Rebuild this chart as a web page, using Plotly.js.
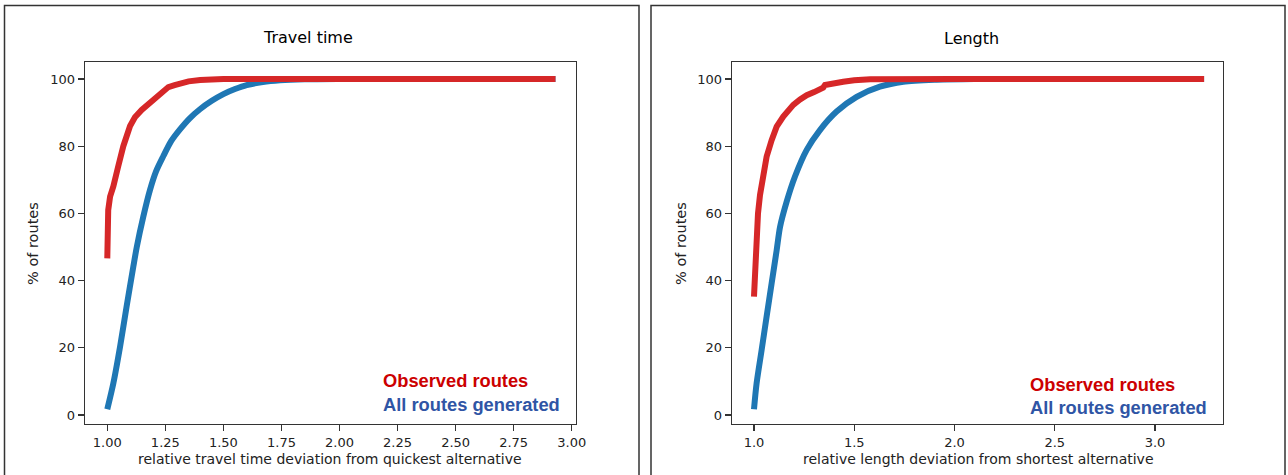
<!DOCTYPE html>
<html>
<head>
<meta charset="utf-8">
<script src="https://cdn.plot.ly/plotly-3.0.1.min.js"></script>
<style>
  html, body { margin: 0; padding: 0; background: #fff; }
  #chart { width: 1288px; height: 475px; }
</style>
</head>
<body>
<div id="chart"></div>
<script>
// ---------------- DATA ----------------
// Travel time panel
const ttObservedX = [1.0, 1.001, 1.004, 1.012, 1.026, 1.047, 1.069, 1.098, 1.119, 1.148, 1.191, 1.227, 1.245, 1.263, 1.29, 1.313, 1.35, 1.4, 1.45, 1.5, 1.7, 2.0, 2.5, 2.93];
const ttObservedY = [46.6, 55, 61, 65, 68, 74, 80, 86, 88.6, 90.8, 93.3, 95.7, 96.9, 97.6, 98.2, 98.7, 99.3, 99.7, 99.9, 100, 100, 100, 100, 100];
const ttAllX = [1.0, 1.026, 1.055, 1.083, 1.112, 1.127, 1.155, 1.184, 1.21, 1.241, 1.275, 1.313, 1.355, 1.399, 1.45, 1.5, 1.55, 1.6, 1.67, 1.744, 1.85, 2.0, 2.5, 2.93];
const ttAllY = [1.7, 9.4, 20.3, 32.2, 44.1, 50, 59, 67, 72.5, 77, 81.5, 85, 88.3, 91, 93.5, 95.5, 97, 98.2, 99.1, 99.6, 99.9, 100, 100, 100];

// Length panel
const lenObservedX = [1.0, 1.007, 1.013, 1.02, 1.03, 1.046, 1.063, 1.088, 1.113, 1.146, 1.196, 1.23, 1.263, 1.3, 1.329, 1.345, 1.354, 1.4, 1.445, 1.5, 1.58, 2.0, 2.6, 3.245];
const lenObservedY = [35.2, 45, 53, 60, 65.5, 71.9, 76.9, 81.8, 85.8, 88.8, 92.3, 93.9, 95.2, 96.1, 96.7, 97.4, 98.2, 98.8, 99.2, 99.6, 99.9, 100, 100, 100];
const lenAllX = [1.0, 1.013, 1.038, 1.063, 1.088, 1.113, 1.13, 1.163, 1.204, 1.263, 1.329, 1.412, 1.512, 1.628, 1.745, 1.911, 2.1, 2.6, 3.245];
const lenAllY = [1.7, 9.4, 19.3, 29.3, 39.2, 49, 56, 63.5, 70.9, 78.9, 84.8, 90.3, 94.7, 97.7, 99.2, 99.8, 100, 100, 100];

// Tick labels
const ttTickVals = [1.0, 1.25, 1.5, 1.75, 2.0, 2.25, 2.5, 2.75, 3.0];
const ttTickText = ["1.00", "1.25", "1.50", "1.75", "2.00", "2.25", "2.50", "2.75", "3.00"];
const lenTickVals = [1.0, 1.5, 2.0, 2.5, 3.0];
const lenTickText = ["1.0", "1.5", "2.0", "2.5", "3.0"];
const yTickVals = [0, 20, 40, 60, 80, 100];
const yTickText = ["0", "20", "40", "60", "80", "100"];

// Texts
const panelTitles = ["Travel time", "Length"];
const xTitles = ["relative travel time deviation from quickest alternative", "relative length deviation from shortest alternative"];
const yTitle = "% of routes";
const seriesNames = ["Observed routes", "All routes generated"];

// ---------------- LAYOUT HELPERS ----------------
const W = 1288, H = 475;
const px = x => x / W;
const py = y => 1 - y / H;

const RED_LINE = '#d62728', BLUE_LINE = '#1f77b4';
const RED_TEXT = '#cc0000', BLUE_TEXT = '#2f55a5';
const AX = '#333333';
const tickFont = { family: 'DejaVu Sans', size: 13, color: '#222' };
const labelFont = { family: 'DejaVu Sans', size: 14, color: '#222' };
const titleFont = { family: 'DejaVu Sans', size: 16, color: '#000' };
const legendFont = c => ({ family: 'Liberation Sans', size: 18.3, color: c });

const blueLine = { color: BLUE_LINE, width: 6, shape: 'spline', smoothing: 0.8 };
const redLine = { color: RED_LINE, width: 6 };

const traces = [
  { x: ttAllX, y: ttAllY, xaxis: 'x', yaxis: 'y', mode: 'lines', name: seriesNames[1], line: blueLine, hoverinfo: 'skip' },
  { x: ttObservedX, y: ttObservedY, xaxis: 'x', yaxis: 'y', mode: 'lines', name: seriesNames[0], line: redLine, hoverinfo: 'skip' },
  { x: lenAllX, y: lenAllY, xaxis: 'x2', yaxis: 'y2', mode: 'lines', name: seriesNames[1], line: blueLine, hoverinfo: 'skip' },
  { x: lenObservedX, y: lenObservedY, xaxis: 'x2', yaxis: 'y2', mode: 'lines', name: seriesNames[0], line: redLine, hoverinfo: 'skip' }
];

function xAxis(domain, range, vals, text, anchor) {
  return {
    domain: domain, range: range, anchor: anchor,
    tickmode: 'array', tickvals: vals, ticktext: text,
    ticks: 'outside', ticklen: 6, tickwidth: 1.2, tickcolor: AX,
    showline: true, mirror: true, linecolor: AX, linewidth: 1.3,
    showgrid: false, zeroline: false, tickfont: tickFont, fixedrange: true
  };
}
function yAxis(domain, anchor) {
  return {
    domain: domain, range: [-2.68, 105.06], anchor: anchor,
    tickmode: 'array', tickvals: yTickVals, ticktext: yTickText,
    ticks: 'outside', ticklen: 6, tickwidth: 1.2, tickcolor: AX,
    showline: true, mirror: true, linecolor: AX, linewidth: 1.3,
    showgrid: false, zeroline: false, tickfont: tickFont, fixedrange: true
  };
}

const yDom = [py(424), py(62)];

const layout = {
  width: W, height: H,
  margin: { l: 0, r: 0, t: 0, b: 0, pad: 0 },
  paper_bgcolor: '#ffffff', plot_bgcolor: '#ffffff',
  showlegend: false,
  xaxis: xAxis([px(85), px(576)], [0.904, 3.0185], ttTickVals, ttTickText, 'y'),
  yaxis: yAxis(yDom, 'x'),
  xaxis2: xAxis([px(732), px(1223)], [0.8903, 3.3393], lenTickVals, lenTickText, 'y2'),
  yaxis2: yAxis(yDom, 'x2'),
  shapes: [
    { type: 'rect', xref: 'paper', yref: 'paper', x0: px(4.5), x1: px(639), y0: py(490), y1: py(5.5),
      line: { color: AX, width: 1.5 }, fillcolor: 'rgba(0,0,0,0)' },
    { type: 'rect', xref: 'paper', yref: 'paper', x0: px(651), x1: px(1285), y0: py(490), y1: py(5.5),
      line: { color: AX, width: 1.5 }, fillcolor: 'rgba(0,0,0,0)' }
  ],
  annotations: [
    { text: panelTitles[0], xref: 'paper', yref: 'paper', x: px(308), y: py(38), xanchor: 'center', yanchor: 'middle',
      showarrow: false, font: titleFont },
    { text: panelTitles[1], xref: 'paper', yref: 'paper', x: px(971), y: py(39), xanchor: 'center', yanchor: 'middle',
      showarrow: false, font: titleFont },
    { text: xTitles[0], xref: 'paper', yref: 'paper', x: px(330), y: py(459), xanchor: 'center', yanchor: 'middle',
      showarrow: false, font: labelFont },
    { text: xTitles[1], xref: 'paper', yref: 'paper', x: px(978), y: py(459), xanchor: 'center', yanchor: 'middle',
      showarrow: false, font: labelFont },
    { text: yTitle, xref: 'paper', yref: 'paper', x: px(33), y: py(244), xanchor: 'center', yanchor: 'middle', textangle: -90,
      showarrow: false, font: { family: 'DejaVu Sans', size: 14.5, color: '#222' } },
    { text: yTitle, xref: 'paper', yref: 'paper', x: px(681), y: py(244), xanchor: 'center', yanchor: 'middle', textangle: -90,
      showarrow: false, font: { family: 'DejaVu Sans', size: 14.5, color: '#222' } },
    { text: '<b>' + seriesNames[0] + '</b>', xref: 'paper', yref: 'paper', x: px(381), y: py(380), xanchor: 'left', yanchor: 'middle',
      showarrow: false, font: legendFont(RED_TEXT) },
    { text: '<b>' + seriesNames[1] + '</b>', xref: 'paper', yref: 'paper', x: px(381), y: py(404), xanchor: 'left', yanchor: 'middle',
      showarrow: false, font: legendFont(BLUE_TEXT) },
    { text: '<b>' + seriesNames[0] + '</b>', xref: 'paper', yref: 'paper', x: px(1028), y: py(384), xanchor: 'left', yanchor: 'middle',
      showarrow: false, font: legendFont(RED_TEXT) },
    { text: '<b>' + seriesNames[1] + '</b>', xref: 'paper', yref: 'paper', x: px(1028), y: py(407), xanchor: 'left', yanchor: 'middle',
      showarrow: false, font: legendFont(BLUE_TEXT) }
  ]
};

Plotly.newPlot('chart', traces, layout, { staticPlot: true, displayModeBar: false });
</script>
</body>
</html>
